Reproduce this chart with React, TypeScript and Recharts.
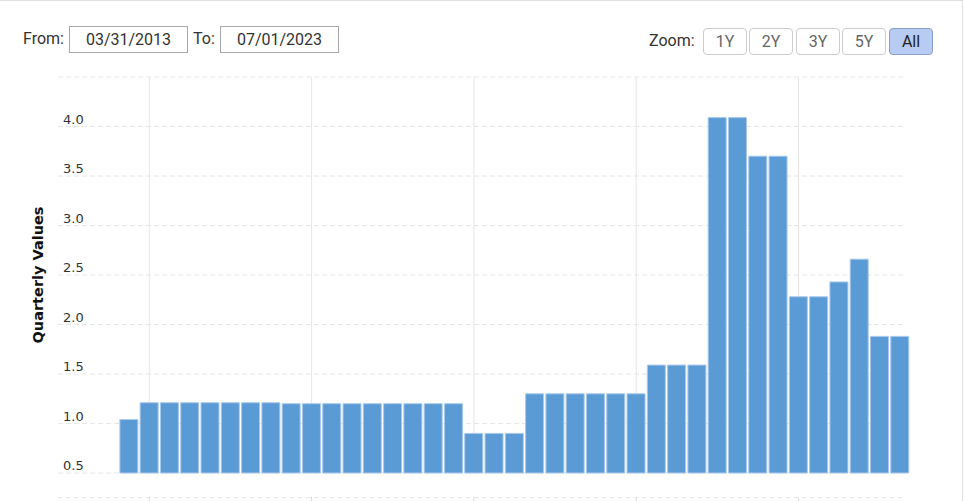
import { BarChart, Bar, XAxis, YAxis, ReferenceLine } from 'recharts';

// ─── Quarterly values (Sep 2013 → Mar 2023) ──────────────────────────────────
const quarters = [
  '2013-09', '2013-12',
  '2014-03', '2014-06', '2014-09', '2014-12',
  '2015-03', '2015-06', '2015-09', '2015-12',
  '2016-03', '2016-06', '2016-09', '2016-12',
  '2017-03', '2017-06', '2017-09', '2017-12',
  '2018-03', '2018-06', '2018-09', '2018-12',
  '2019-03', '2019-06', '2019-09', '2019-12',
  '2020-03', '2020-06', '2020-09', '2020-12',
  '2021-03', '2021-06', '2021-09', '2021-12',
  '2022-03', '2022-06', '2022-09', '2022-12',
  '2023-03',
];

const quarterlyValues = [
  1.04, 1.21,
  1.21, 1.21, 1.21, 1.21,
  1.21, 1.21, 1.2, 1.2,
  1.2, 1.2, 1.2, 1.2,
  1.2, 1.2, 1.2, 0.9,
  0.9, 0.9, 1.3, 1.3,
  1.3, 1.3, 1.3, 1.3,
  1.59, 1.59, 1.59, 4.09,
  4.09, 3.7, 3.7, 2.28,
  2.28, 2.43, 2.66, 1.88,
  1.88,
];

// year gridlines sit on these quarter indexes (2014, 2016, 2018, 2020, 2022)
const yearTickIndex = [1, 9, 17, 25, 33];
const yTicks = [0.5, 1.0, 1.5, 2.0, 2.5, 3.0, 3.5, 4.0, 4.5];

const zoomButtons = ['1Y', '2Y', '3Y', '5Y', 'All'];
const zoomLeft = [703, 749, 796, 842, 889];

const chartData = quarters.map((q, i) => ({ q, x: i, value: quarterlyValues[i] }));

const BAR = '#5b9bd5';
const GRID = '#e6e6e6';
const TEXT = '#333333';
const UI_FONT = 'Roboto, Arial, sans-serif';
const AXIS_FONT = '"DejaVu Sans", Verdana, sans-serif';

function GridLabel({ viewBox, text }: { viewBox?: { x: number; y: number }; text: string }) {
  if (!viewBox) return null;
  return (
    <text x={viewBox.x + 5} y={viewBox.y - 3} fontSize={13} fill={TEXT} fontFamily={AXIS_FONT}>
      {text}
    </text>
  );
}

// year gridline plus the small x-axis tick below the plot
function YearLine(props: { x1?: number; y1?: number; x2?: number; y2?: number }) {
  const { x1 = 0, y1 = 0, y2 = 0 } = props;
  const top = Math.min(y1, y2);
  const bottom = Math.max(y1, y2);
  return (
    <g>
      <line x1={x1} x2={x1} y1={top} y2={bottom} stroke={GRID} strokeWidth={1} />
      <line x1={x1} x2={x1} y1={bottom + 24} y2={bottom + 40} stroke="#d8d8d8" strokeWidth={1} />
    </g>
  );
}

function DateBox({ left, value }: { left: number; value: string }) {
  return (
    <div
      style={{
        position: 'absolute',
        left,
        top: 25,
        width: 117,
        height: 25,
        border: '1px solid #a8a8a8',
        fontFamily: UI_FONT,
        fontSize: 16,
        color: TEXT,
        textAlign: 'center',
        lineHeight: '25px',
      }}
    >
      {value}
    </div>
  );
}

const labelStyle = {
  position: 'absolute' as const,
  fontFamily: UI_FONT,
  fontSize: 16,
  color: TEXT,
  lineHeight: '20px',
};

export default function App() {
  return (
    <div
      style={{
        position: 'absolute',
        left: 0,
        top: 0,
        width: 962,
        height: 501,
        borderTop: '1px solid #e0e0e0',
        borderRight: '1px solid #e0e0e0',
        background: '#fff',
        overflow: 'hidden',
      }}
    >
      <div style={{ position: 'absolute', top: -1, left: 0 }}>
        <BarChart
          width={963}
          height={501}
          data={chartData}
          margin={{ top: 77, right: 58, bottom: 28, left: 58 }}
        >
          <XAxis
            dataKey="x"
            type="number"
            domain={[-3.5, 38.25]}
            ticks={yearTickIndex}
            height={0}
            axisLine={false}
            tickLine={false}
            tick={false}
          />
          <YAxis
            type="number"
            domain={[0.5, 4.5]}
            ticks={yTicks}
            width={0}
            axisLine={false}
            tickLine={false}
            tick={false}
          />
          {yTicks.map((v) => (
            <ReferenceLine
              key={`h${v}`}
              y={v}
              stroke={GRID}
              strokeDasharray="5 3"
              zIndex={-50}
              label={v < 4.5 ? <GridLabel text={v.toFixed(1)} /> : undefined}
            />
          ))}
          {yearTickIndex.map((i) => (
            <ReferenceLine key={`v${i}`} x={i} zIndex={-50} shape={<YearLine />} />
          ))}
          <Bar
            dataKey="value"
            fill={BAR}
            stroke="#a9c9ec"
            strokeWidth={1}
            barSize={18}
            isAnimationActive={false}
          />
        </BarChart>
      </div>

      <svg
        width={963}
        height={501}
        style={{ position: 'absolute', left: 0, top: -1, pointerEvents: 'none' }}
      >
        <line x1={58} x2={905} y1={497.5} y2={497.5} stroke={GRID} strokeDasharray="5 3" />
        <text
          transform="translate(43,275) rotate(-90)"
          textAnchor="middle"
          fontFamily={AXIS_FONT}
          fontWeight="bold"
          fontSize={14.5}
          fill="#111"
        >
          Quarterly Values
        </text>
      </svg>

      <div style={{ ...labelStyle, left: 23, top: 28 }}>From:</div>
      <DateBox left={69} value="03/31/2013" />
      <div style={{ ...labelStyle, left: 193, top: 28 }}>To:</div>
      <DateBox left={220} value="07/01/2023" />

      <div style={{ ...labelStyle, left: 649, top: 30 }}>Zoom:</div>
      {zoomButtons.map((b, i) => {
        const active = b === 'All';
        return (
          <div
            key={b}
            style={{
              position: 'absolute',
              left: zoomLeft[i],
              top: 27,
              width: 42,
              height: 25,
              border: `1px solid ${active ? '#8a9fc8' : '#cccccc'}`,
              borderRadius: 4,
              background: active ? '#b8cbf2' : '#ffffff',
              color: active ? '#222' : '#666',
              fontFamily: UI_FONT,
              fontSize: 16,
              textAlign: 'center',
              lineHeight: '25px',
            }}
          >
            {b}
          </div>
        );
      })}
    </div>
  );
}
